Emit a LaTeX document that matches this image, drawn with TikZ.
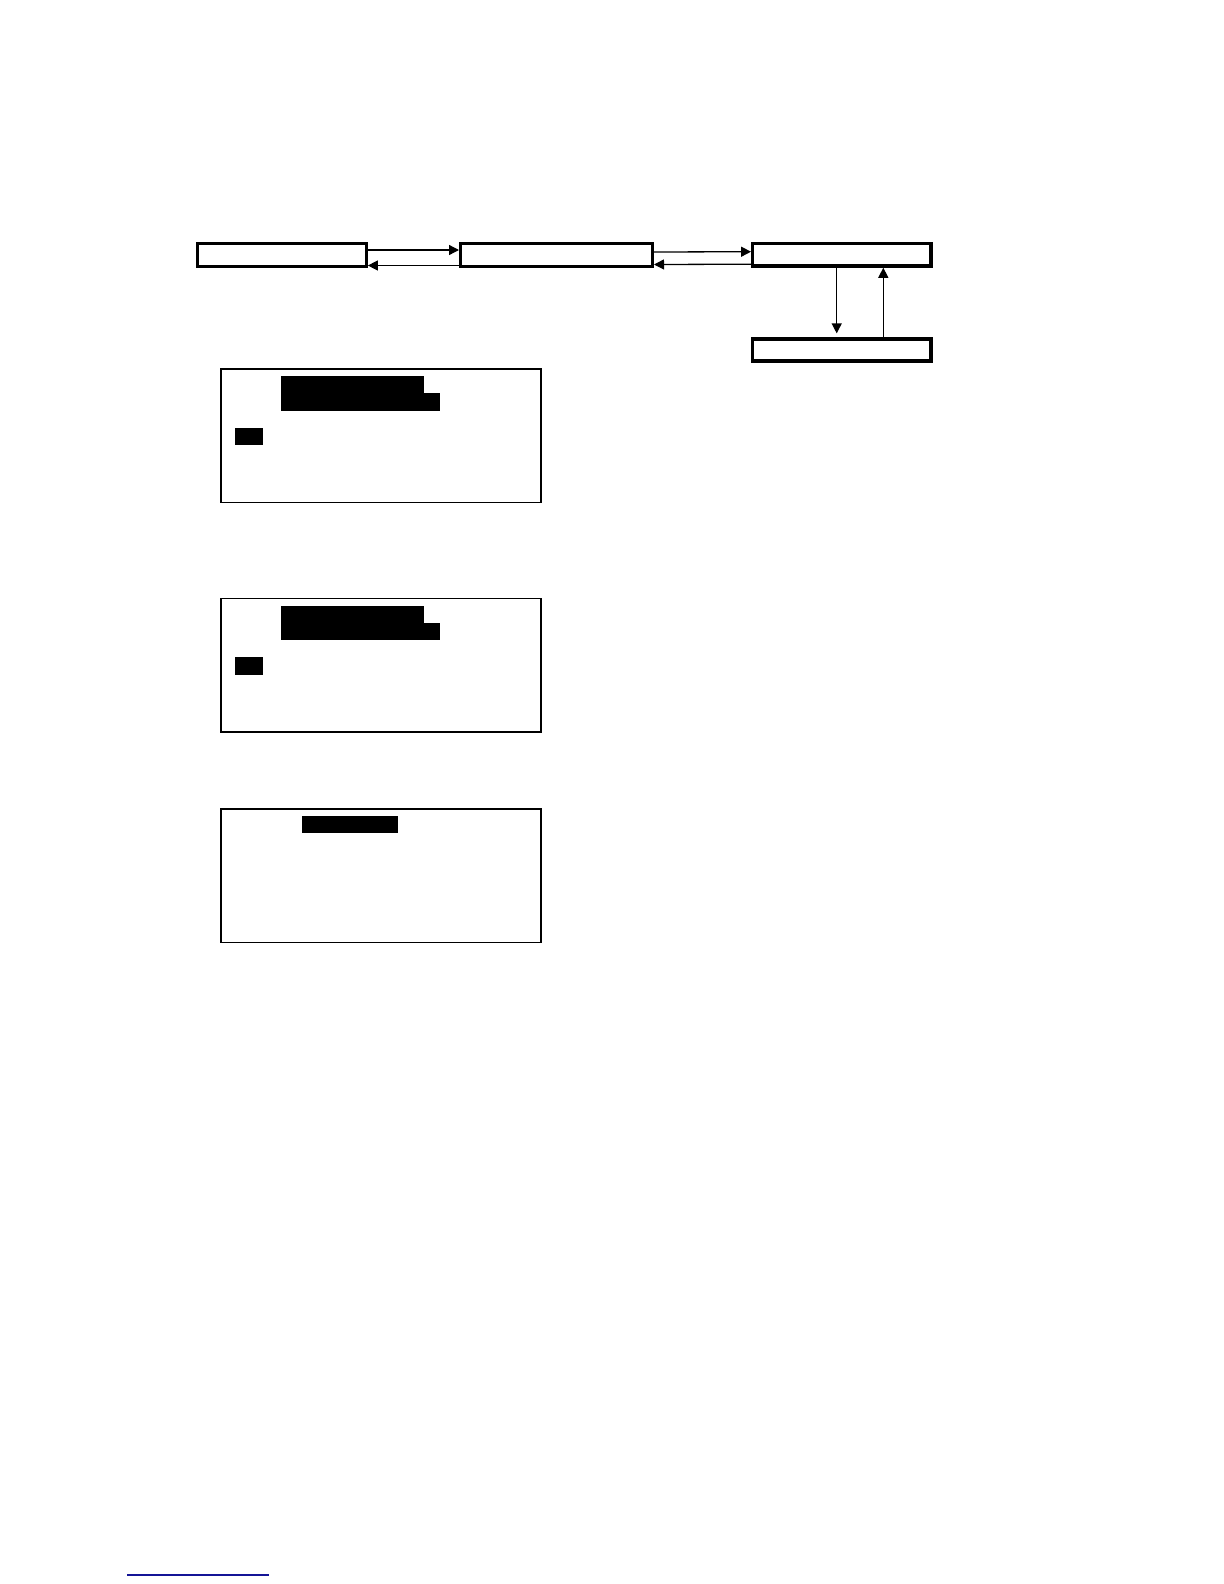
\documentclass[tikz,border=0pt]{standalone}
\usetikzlibrary{arrows.meta}
\definecolor{rulenavy}{RGB}{20,20,150}
\begin{document}
\begin{tikzpicture}[x=0.5bp,y=-0.5bp,
  flowbox/.style={draw=black,line width=1.65bp,rectangle,inner sep=0pt,fill=white},
  panel/.style={draw=black,line width=0.75bp,rectangle,inner sep=0pt,minimum width=160bp},
  link/.style={line width=0.65bp,-{Triangle[length=5bp,width=5bp]}},
  redact/.style={fill=black}]
\useasboundingbox (0,0) rectangle (1224,1584);
\fill[white] (0,0) rectangle (1224,1584);
% top flow boxes
\node[flowbox,minimum width=84.2bp,minimum height=11.65bp] (A) at (282,255) {};
\node[flowbox,minimum width=95.85bp,minimum height=11.65bp] (B) at (556.5,255) {};
\node[flowbox,minimum width=89.2bp,minimum height=11.4bp] (C) at (841.9,254.7) {};
\node[flowbox,minimum width=89.2bp,minimum height=11bp] (D) at (841.9,350) {};
% connectors
\draw[link] ([yshift=2.5bp]A.east) -- ([yshift=2.5bp]B.west);
\draw[link] ([yshift=-5.25bp]B.west) -- ([yshift=-5.25bp]A.east);
\draw[link] ([yshift=1.5bp]B.east) -- ([yshift=1.5bp]C.west);
\draw[link] ([yshift=-4.75bp]C.west) -- ([yshift=-4.75bp]B.east);
\draw[link] ([xshift=-2.6bp]C.south) -- ([xshift=-2.6bp,yshift=2bp]D.north);
\draw[link] ([xshift=20.7bp]D.north) -- ([xshift=20.7bp]C.south);
% panels
\node[panel,minimum height=66.6bp] (P1) at (381,435.7) {};
\node[panel,minimum height=66.9bp] (P2) at (381,665.3) {};
\node[panel,minimum height=66.9bp] (P3) at (381,875.7) {};
% redacted text blocks
\fill[redact] (281,375.7) rectangle (423.7,393);
\fill[redact] (281,392.7) rectangle (440,410.7);
\fill[redact] (235,428) rectangle (263,445);
\fill[redact] (281,605.7) rectangle (423.7,623);
\fill[redact] (281,622.7) rectangle (440,640);
\fill[redact] (235,656.7) rectangle (263,675);
\fill[redact] (302,816) rectangle (398,833);
% footnote rule
\draw[rulenavy,line width=0.6bp] (127,1575) coordinate (r1) -- (269,1575) coordinate (r2);
\end{tikzpicture}
\end{document}
